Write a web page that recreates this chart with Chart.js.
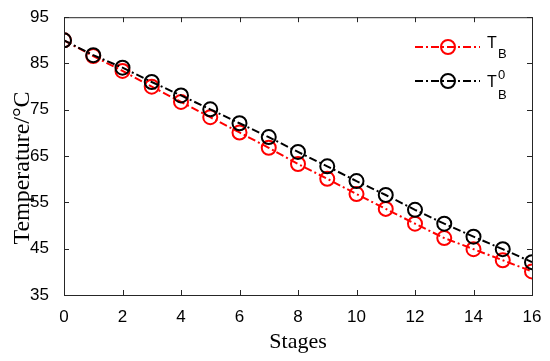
<!DOCTYPE html>
<html>
<head>
<meta charset="utf-8">
<script src="https://cdn.jsdelivr.net/npm/chart.js@4/dist/chart.umd.min.js"></script>
<style>
  html, body { margin: 0; padding: 0; background: #fff; }
  #wrap { width: 550px; height: 361px; }
</style>
</head>
<body>
<div id="wrap"><canvas id="chart"></canvas></div>
<script>
const stages = [0, 1, 2, 3, 4, 5, 6, 7, 8, 9, 10, 11, 12, 13, 14, 15, 16];
const tB = [90.0, 86.6, 83.4, 80.0, 76.7, 73.4, 70.1, 66.8, 63.3, 60.1, 56.8, 53.6, 50.4, 47.3, 44.9, 42.5, 40.1];
const tB0 = [90.0, 86.8, 84.1, 81.0, 78.1, 75.1, 72.1, 69.1, 65.9, 62.8, 59.6, 56.6, 53.4, 50.4, 47.6, 44.9, 42.1];
const yTicks = [35, 45, 55, 65, 75, 85, 95];

const DASH = [8, 3, 2, 3];
const SANS = '"Liberation Sans", Arial, sans-serif';
const SERIF = '"Liberation Serif", "Times New Roman", serif';

// box around the plot plus inward ticks on all four sides, axis titles
const boxPlugin = {
  id: 'box',
  afterDraw(chart) {
    const { ctx, chartArea: a, scales } = chart;
    ctx.save();
    ctx.strokeStyle = '#262626';
    ctx.lineWidth = 1;
    ctx.strokeRect(a.left + 0.5, a.top + 0.5, a.right - a.left, a.bottom - a.top);
    ctx.beginPath();
    for (let v = 0; v <= 16; v += 2) {
      const x = Math.round(scales.x.getPixelForValue(v)) + 0.5;
      ctx.moveTo(x, a.bottom); ctx.lineTo(x, a.bottom - 5);
      ctx.moveTo(x, a.top); ctx.lineTo(x, a.top + 5);
    }
    yTicks.forEach(v => {
      const y = Math.round(scales.y.getPixelForValue(v)) + 0.5;
      ctx.moveTo(a.left, y); ctx.lineTo(a.left + 5, y);
      ctx.moveTo(a.right, y); ctx.lineTo(a.right - 5, y);
    });
    ctx.stroke();

    ctx.fillStyle = '#000';
    ctx.textAlign = 'center';
    ctx.textBaseline = 'alphabetic';
    ctx.font = '22px ' + SERIF;
    ctx.fillText('Stages', (a.left + a.right) / 2, 348);
    ctx.translate(29, 168);
    ctx.rotate(-Math.PI / 2);
    ctx.font = '24px ' + SERIF;
    ctx.fillText('Temperature/°C', 0, 0);
    ctx.restore();
  },
};

// legend with subscript / superscript labels
const legendPlugin = {
  id: 'subLegend',
  afterDraw(chart) {
    const { ctx } = chart;
    const rows = [
      { color: '#ff0000', y: 47, tBase: 48, bBase: 58, sup: null },
      { color: '#000000', y: 81, tBase: 87, bBase: 99, sup: '0', supBase: 79 },
    ];
    ctx.save();
    rows.forEach(r => {
      ctx.strokeStyle = r.color;
      ctx.lineWidth = 2;
      ctx.setLineDash(DASH);
      ctx.beginPath();
      ctx.moveTo(415, r.y); ctx.lineTo(480, r.y);
      ctx.stroke();
      ctx.setLineDash([]);
      ctx.beginPath();
      ctx.arc(448, r.y, 7, 0, Math.PI * 2);
      ctx.stroke();

      ctx.fillStyle = '#000';
      ctx.textBaseline = 'alphabetic';
      ctx.textAlign = 'left';
      ctx.font = '16px ' + SANS;
      ctx.fillText('T', 487, r.tBase);
      ctx.font = '13px ' + SANS;
      ctx.fillText('B', 498, r.bBase);
      if (r.sup) ctx.fillText(r.sup, 498, r.supBase);
    });
    ctx.restore();
  },
};

new Chart(document.getElementById('chart'), {
  type: 'line',
  data: {
    datasets: [
      {
        label: 'T_B',
        data: stages.map((s, i) => ({ x: s, y: tB[i] })),
        borderColor: '#ff0000',
        pointBorderColor: '#ff0000',
        order: 1,
      },
      {
        label: 'T_B^0',
        data: stages.map((s, i) => ({ x: s, y: tB0[i] })),
        borderColor: '#000000',
        pointBorderColor: '#000000',
        order: 0,
      },
    ].map(d => Object.assign(d, {
      borderWidth: 2,
      borderDash: DASH,
      pointRadius: 7,
      pointBorderWidth: 2,
      pointBackgroundColor: 'rgba(0,0,0,0)',
      tension: 0,
    })),
  },
  options: {
    responsive: true,
    maintainAspectRatio: false,
    animation: false,
    layout: { padding: { left: 0, right: 18, top: 14, bottom: 0 } },
    plugins: {
      legend: { display: false },
      tooltip: { enabled: false },
    },
    scales: {
      x: {
        type: 'linear',
        min: 0,
        max: 16,
        afterFit(scale) { scale.height = 66; },
        ticks: {
          stepSize: 2,
          padding: 4,
          color: '#000',
          font: { family: SANS, size: 17 },
        },
        grid: { display: false },
        border: { display: false },
      },
      y: {
        type: 'linear',
        min: 35,
        max: 95,
        afterFit(scale) { scale.width = 64; },
        afterBuildTicks(scale) { scale.ticks = yTicks.map(v => ({ value: v })); },
        ticks: {
          padding: 7,
          color: '#000',
          font: { family: SANS, size: 17 },
        },
        grid: { display: false },
        border: { display: false },
      },
    },
  },
  plugins: [boxPlugin, legendPlugin],
});
</script>
</body>
</html>
